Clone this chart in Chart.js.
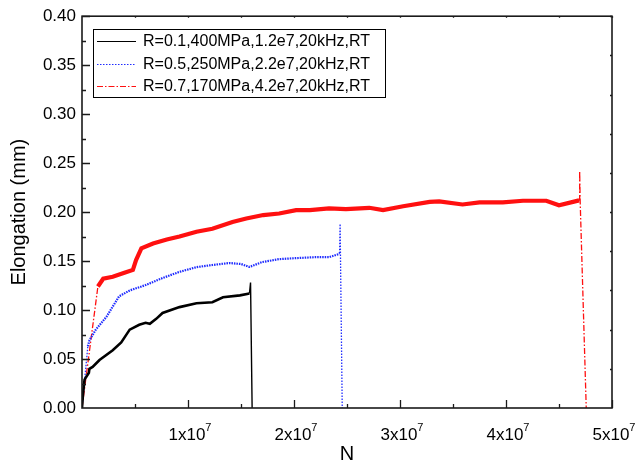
<!DOCTYPE html>
<html>
<head>
<meta charset="utf-8">
<script src="https://cdn.jsdelivr.net/npm/chart.js@4"></script>
<style>
  html, body { margin: 0; padding: 0; background: #fff; }
  #wrap { width: 636px; height: 469px; }
</style>
</head>
<body>
<div id="wrap"><canvas id="elongationChart" width="636" height="469"></canvas></div>
<script>
// cycles N (units of 1e7) and elongation (mm)
const nR01 = [0, 0.01, 0.024, 0.065, 0.07, 0.1, 0.165, 0.29, 0.37, 0.45, 0.54, 0.6, 0.64, 0.7, 0.76, 0.92, 1.08, 1.23, 1.33, 1.49, 1.58, 1.59, 1.605];
const eR01 = [0, 0.015, 0.029, 0.036, 0.040, 0.042, 0.049, 0.059, 0.067, 0.080, 0.085, 0.087, 0.086, 0.091, 0.097, 0.103, 0.107, 0.108, 0.113, 0.115, 0.117, 0.128, 0];

const nR05 = [0, 0.055, 0.07, 0.13, 0.23, 0.35, 0.45, 0.6, 0.76, 0.92, 1.08, 1.23, 1.39, 1.5, 1.58, 1.7, 1.86, 2.02, 2.2, 2.33, 2.42, 2.43, 2.435, 2.455];
const eR05 = [0, 0.063, 0.069, 0.080, 0.093, 0.114, 0.120, 0.1255, 0.1327, 0.139, 0.1438, 0.146, 0.148, 0.147, 0.144, 0.149, 0.152, 0.153, 0.154, 0.154, 0.157, 0.158, 0.188, 0];

const nR07 = [0, 0.15, 0.2, 0.29, 0.4, 0.48, 0.51, 0.56, 0.67, 0.8, 0.92, 1.08, 1.23, 1.42, 1.55, 1.71, 1.86, 2.02, 2.15, 2.33, 2.49, 2.71, 2.84, 3.03, 3.28, 3.37, 3.59, 3.75, 3.97, 4.16, 4.38, 4.5, 4.69, 4.695, 4.70, 4.757];
const eR07 = [0, 0.124, 0.132, 0.134, 0.138, 0.141, 0.151, 0.163, 0.168, 0.172, 0.175, 0.180, 0.183, 0.190, 0.1935, 0.197, 0.1986, 0.202, 0.202, 0.2038, 0.203, 0.2044, 0.202, 0.206, 0.2105, 0.211, 0.2078, 0.210, 0.210, 0.2116, 0.2116, 0.207, 0.212, 0.242, 0.21, 0];

const seriesLabels = [
    "R=0.1,400MPa,1.2e7,20kHz,RT",
    "R=0.5,250MPa,2.2e7,20kHz,RT",
    "R=0.7,170MPa,4.2e7,20kHz,RT"
];

const xTickMantissa = [1, 2, 3, 4, 5];
const xTickExponent = "7";
const yTickStep = 0.05;

const FONT = "'Liberation Sans', Arial, sans-serif";

function toPoints(ns, es) {
    return ns.map((n, i) => ({ x: n * 1e7, y: es[i] }));
}

// thick noisy band for the curve, thin line for the first rise / final drop
function segStyle(thinBefore, thinFrom, thick, thin, curveDash, thinDash) {
    const isThin = ctx => ctx.p0DataIndex < thinBefore || ctx.p0DataIndex >= thinFrom;
    return {
        borderWidth: ctx => isThin(ctx) ? thin : thick,
        borderDash: ctx => isThin(ctx) ? thinDash : curveDash,
        borderColor: ctx => undefined
    };
}

const datasets = [
    {
        label: seriesLabels[0],
        data: toPoints(nR01, eR01),
        borderColor: '#000',
        legendDash: [],
        segment: segStyle(0, 20, 2.6, 1.4, [], [])
    },
    {
        label: seriesLabels[1],
        data: toPoints(nR05, eR05),
        borderColor: '#1f2cff',
        legendDash: [1.5, 1.5],
        segment: segStyle(1, 21, 2.2, 1.3, [1.5, 1], [1.5, 1.5])
    },
    {
        label: seriesLabels[2],
        data: toPoints(nR07, eR07),
        borderColor: '#ff1010',
        legendDash: [6, 2, 1.5, 2],
        segment: segStyle(1, 32, 4.2, 1.3, [], [6, 2, 1.5, 2])
    }
];
datasets.forEach(ds => {
    ds.showLine = true;
    ds.pointRadius = 0;
    ds.tension = 0;
    ds.fill = false;
    delete ds.segment.borderColor;
});

// frame, inward ticks, x labels with superscript, boxed legend
const framePlugin = {
    id: 'framePlugin',
    afterDatasetsDraw(chart) {
        const { ctx, chartArea: a, scales } = chart;
        const xs = scales.x, ys = scales.y;
        ctx.save();
        ctx.strokeStyle = '#1a1a1a';
        ctx.lineWidth = 1.6;
        ctx.strokeRect(a.left, a.top, a.right - a.left, a.bottom - a.top);

        ctx.lineWidth = 1.3;
        ctx.beginPath();
        // bottom axis: major every 1e7, minor every 0.5e7
        for (let v = 0.5e7; v <= 5e7 + 1; v += 0.5e7) {
            const px = Math.round(xs.getPixelForValue(v)) + 0.5;
            const major = Math.abs(v / 1e7 - Math.round(v / 1e7)) < 1e-6;
            ctx.moveTo(px, a.bottom);
            ctx.lineTo(px, a.bottom - (major ? 8 : 4));
            // tiny ticks on top axis
            ctx.moveTo(px, a.top);
            ctx.lineTo(px, a.top + 1.5);
        }
        // left axis: major every 0.05, minor every 0.025
        for (let v = 0.025; v <= 0.4 + 1e-9; v += 0.025) {
            const py = Math.round(ys.getPixelForValue(v)) + 0.5;
            const major = Math.abs(v / yTickStep - Math.round(v / yTickStep)) < 1e-6;
            ctx.moveTo(a.left, py);
            ctx.lineTo(a.left + (major ? 8 : 4), py);
        }
        // tiny ticks on right axis, ten divisions
        for (let v = 0.04; v < 0.4; v += 0.04) {
            const py = Math.round(ys.getPixelForValue(v)) + 0.5;
            ctx.moveTo(a.right, py);
            ctx.lineTo(a.right - 2, py);
        }
        ctx.stroke();

        // x tick labels 1x10^7 ...
        ctx.fillStyle = '#000';
        ctx.textBaseline = 'alphabetic';
        xTickMantissa.forEach(m => {
            const px = xs.getPixelForValue(m * 1e7);
            ctx.font = '17px ' + FONT;
            const base = m + 'x10';
            const wb = ctx.measureText(base).width;
            ctx.font = '11px ' + FONT;
            const we = ctx.measureText(xTickExponent).width;
            const x0 = px - (wb + we) / 2 + 2;
            ctx.font = '17px ' + FONT;
            ctx.textAlign = 'left';
            ctx.fillText(base, x0, a.bottom + 32);
            ctx.font = '11px ' + FONT;
            ctx.fillText(xTickExponent, x0 + wb, a.bottom + 23);
        });

        // legend box
        const bx = 93, by = 29, bw = 292, bh = 68;
        ctx.lineWidth = 1;
        ctx.strokeStyle = '#000';
        ctx.strokeRect(bx + 0.5, by + 0.5, bw, bh);
        ctx.font = '16px ' + FONT;
        ctx.textAlign = 'left';
        ctx.textBaseline = 'middle';
        chart.data.datasets.forEach((ds, i) => {
            const ry = by + 12 + i * 22.5;
            ctx.beginPath();
            ctx.strokeStyle = ds.borderColor;
            ctx.lineWidth = 1;
            ctx.setLineDash(ds.legendDash);
            ctx.moveTo(bx + 4, Math.round(ry) + 0.5);
            ctx.lineTo(bx + 43, Math.round(ry) + 0.5);
            ctx.stroke();
            ctx.setLineDash([]);
            ctx.fillStyle = '#000';
            ctx.fillText(ds.label, bx + 50, ry + 1);
        });
        ctx.restore();
    }
};

new Chart(document.getElementById('elongationChart'), {
    type: 'scatter',
    data: { datasets: datasets },
    options: {
        responsive: false,
        animation: false,
        events: [],
        layout: { padding: { left: 0, top: 16, right: 24, bottom: 0 } },
        plugins: {
            legend: { display: false },
            tooltip: { enabled: false }
        },
        scales: {
            x: {
                type: 'linear',
                min: 0,
                max: 5e7,
                grid: { display: false, drawTicks: false },
                border: { display: false },
                ticks: { display: false, stepSize: 1e7 },
                title: {
                    display: true,
                    text: 'N',
                    color: '#000',
                    font: { family: FONT, size: 20 },
                    padding: { top: 0, bottom: 3 }
                },
                afterFit: scale => { scale.height = 61; }
            },
            y: {
                min: 0,
                max: 0.4,
                grid: { display: false, drawTicks: false },
                border: { display: false },
                ticks: {
                    stepSize: yTickStep,
                    autoSkip: false,
                    padding: 6,
                    color: '#000',
                    font: { family: FONT, size: 17 },
                    callback: v => v.toFixed(2)
                },
                title: {
                    display: true,
                    text: 'Elongation (mm)',
                    color: '#000',
                    font: { family: FONT, size: 20 },
                    padding: { top: 7, bottom: 0 }
                },
                afterFit: scale => { scale.width = 82; }
            }
        }
    },
    plugins: [framePlugin]
});
</script>
</body>
</html>
